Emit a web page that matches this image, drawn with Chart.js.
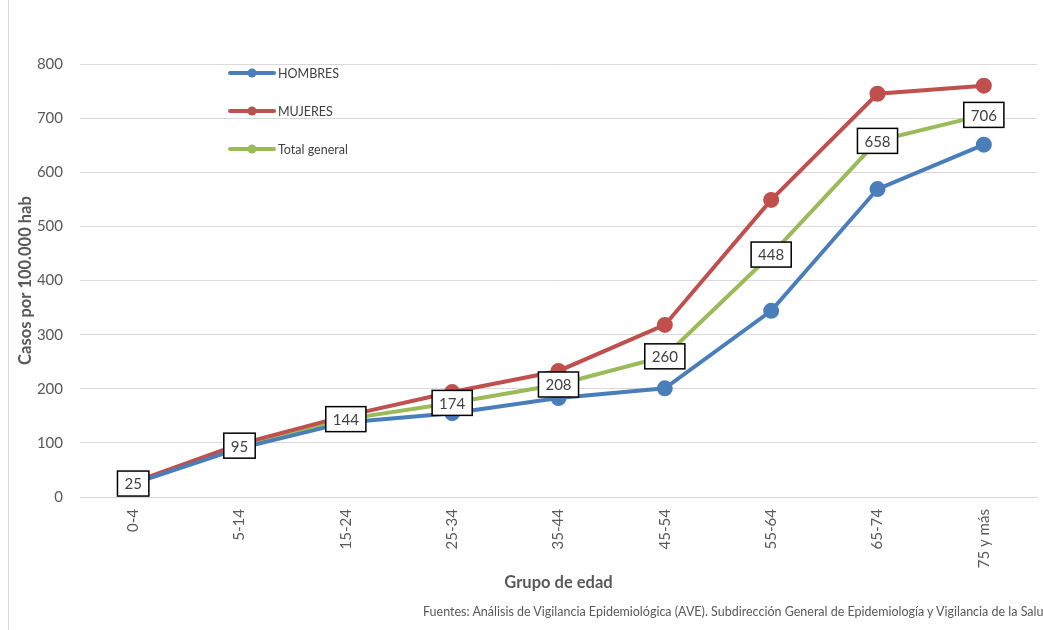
<!DOCTYPE html>
<html>
<head>
<meta charset="utf-8">
<script src="https://cdn.jsdelivr.net/npm/chart.js@4"></script>
<style>
  body { margin: 0; background: #fff; overflow: hidden; }
  #wrap { position: relative; width: 1043px; height: 630px; overflow: hidden; }
  #frame { position: absolute; left: 8px; top: 0; width: 1px; height: 630px; background: #d9d9d9; }
  #fuente { position: absolute; left: 423px; top: 604px; font-family: Lato, "Open Sans", sans-serif; font-size: 12.5px; color: #595959; white-space: nowrap; }
</style>
</head>
<body>
<div id="wrap">
  <div id="frame"></div>
  <canvas id="grafico" width="1047" height="630"></canvas>
  <div id="fuente">Fuentes: Análisis de Vigilancia Epidemiológica (AVE). Subdirección General de Epidemiología y Vigilancia de la Salud</div>
</div>
<script>
const grupos = ["0-4", "5-14", "15-24", "25-34", "35-44", "45-54", "55-64", "65-74", "75 y más"];
const hombres = [25, 90, 138, 155, 183, 201, 344, 569, 651];
const mujeres = [27, 98, 150, 194, 233, 318, 549, 745, 760];
const total = [25, 95, 144, 174, 208, 260, 448, 658, 706];
const yTicks = [0, 100, 200, 300, 400, 500, 600, 700, 800];

const FONT = "Lato, 'Open Sans', sans-serif";

// leyenda dibujada dentro del area del grafico
const leyendaPlugin = {
  id: "leyendaDentro",
  afterDraw(chart) {
    const ctx = chart.ctx;
    chart.data.datasets.forEach((ds, i) => {
      const y = 73 + i * 38;
      ctx.save();
      ctx.strokeStyle = ds.borderColor;
      ctx.lineWidth = 4;
      ctx.lineCap = "round";
      ctx.beginPath();
      ctx.moveTo(230, y);
      ctx.lineTo(274, y);
      ctx.stroke();
      ctx.fillStyle = ds.borderColor;
      ctx.beginPath();
      ctx.arc(252, y, 4.5, 0, Math.PI * 2);
      ctx.fill();
      ctx.fillStyle = "#404040";
      ctx.font = "12.5px " + FONT;
      ctx.textBaseline = "middle";
      ctx.fillText(ds.label, 278, y + 1);
      ctx.restore();
    });
  }
};

// etiquetas con recuadro sobre la serie total
const etiquetasPlugin = {
  id: "etiquetasTotal",
  afterDatasetsDraw(chart) {
    const ctx = chart.ctx;
    const meta = chart.getDatasetMeta(2);
    ctx.save();
    ctx.font = "15px " + FONT;
    ctx.textAlign = "center";
    ctx.textBaseline = "middle";
    meta.data.forEach((pt, i) => {
      const txt = String(total[i]);
      const w = ctx.measureText(txt).width + 14;
      const h = 25;
      ctx.fillStyle = "#fff";
      ctx.fillRect(pt.x - w / 2, pt.y - h / 2, w, h);
      ctx.strokeStyle = "#000";
      ctx.lineWidth = 1.5;
      ctx.strokeRect(pt.x - w / 2, pt.y - h / 2, w, h);
      ctx.fillStyle = "#404040";
      ctx.fillText(txt, pt.x, pt.y + 1);
    });
    ctx.restore();
  }
};

const data = {
  labels: grupos,
  datasets: [
    {
      label: "HOMBRES",
      data: hombres,
      borderColor: "#4a7ebb",
      backgroundColor: "#4a7ebb",
      borderWidth: 4,
      pointRadius: 6,
      pointHoverRadius: 6,
    },
    {
      label: "MUJERES",
      data: mujeres,
      borderColor: "#c0504d",
      backgroundColor: "#c0504d",
      borderWidth: 4,
      pointRadius: 6,
      pointHoverRadius: 6,
    },
    {
      label: "Total general",
      data: total,
      borderColor: "#9bbb59",
      backgroundColor: "#9bbb59",
      borderWidth: 4,
      pointRadius: 5,
      pointHoverRadius: 5,
    },
  ],
};

const config = {
  type: "line",
  data: data,
  options: {
    responsive: false,
    animation: false,
    layout: { padding: { top: 64, right: 3, left: 16, bottom: 37 } },
    plugins: {
      legend: { display: false },
      tooltip: { enabled: false },
    },
    scales: {
      x: {
        offset: true,
        afterFit(axis) {
          axis.paddingLeft = 0;
          axis.paddingRight = 0;
        },
        grid: { display: false, drawTicks: false },
        border: { color: "#d9d9d9", width: 1 },
        ticks: {
          minRotation: 90,
          maxRotation: 90,
          color: "#595959",
          font: { family: FONT, size: 15 },
          padding: 12,
        },
        title: {
          display: true,
          text: "Grupo de edad",
          color: "#595959",
          font: { family: FONT, size: 16.5, weight: "bold" },
          padding: { top: -7, bottom: 0 },
        },
      },
      y: {
        min: 0,
        max: 800,
        afterBuildTicks(axis) {
          axis.ticks = yTicks.map(v => ({ value: v }));
        },
        afterFit(axis) {
          axis.width = 64;
        },
        grid: { color: "#d9d9d9", drawTicks: false },
        border: { display: false },
        ticks: {
          color: "#595959",
          font: { family: FONT, size: 15 },
          padding: 17,
        },
        title: {
          display: true,
          text: "Casos por 100.000 hab",
          color: "#595959",
          font: { family: FONT, size: 16.5, weight: "bold" },
          padding: { top: 0, bottom: -18 },
        },
      },
    },
  },
  plugins: [leyendaPlugin, etiquetasPlugin],
};

var grafico = new Chart(document.getElementById("grafico").getContext("2d"), config);
</script>
</body>
</html>
